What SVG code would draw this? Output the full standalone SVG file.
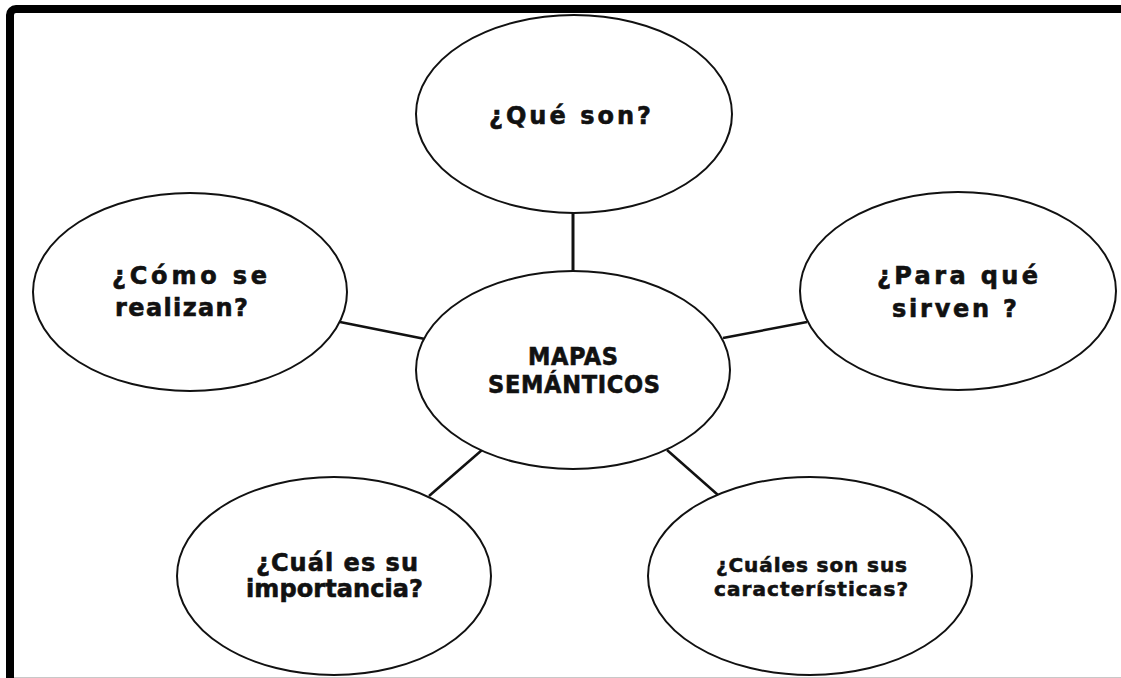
<svg xmlns="http://www.w3.org/2000/svg" width="1121" height="678" viewBox="0 0 1121 678">
<style>
.node ellipse{fill:#fff;stroke:#111;stroke-width:2}
.t{font-family:"DejaVu Sans","Liberation Sans",sans-serif;font-weight:bold;fill:#111;stroke:#111;stroke-width:0.6;font-size:24px}
.s{font-size:20px}
.c{font-family:"DejaVu Sans Condensed","Liberation Sans Narrow","Liberation Sans",sans-serif;font-size:25px}
.conn line{stroke:#111;stroke-width:2.5}
</style>
<rect x="0" y="0" width="1121" height="678" fill="#fff"/>
<rect x="10" y="9" width="1200" height="720" rx="6" fill="#fff" stroke="#000" stroke-width="8"/>
<line x1="14" y1="677.5" x2="1121" y2="677.5" stroke="#c8c8c8" stroke-width="1"/>
<g id="connectors" class="conn">
<line x1="573" y1="212" x2="573" y2="272" style="stroke-width:3"/>
<line x1="340" y1="322" x2="425" y2="339"/>
<line x1="723" y1="338" x2="807" y2="322"/>
<line x1="429" y1="496" x2="482" y2="450"/>
<line x1="667" y1="450" x2="718" y2="495"/>
</g>
<g id="n-que" class="node">
<ellipse cx="574" cy="114" rx="158" ry="99"/>
<text class="t" x="489" y="124" textLength="162" lengthAdjust="spacing">¿Qué son?</text>
</g>
<g id="n-como" class="node">
<ellipse cx="190" cy="292" rx="157" ry="99"/>
<text class="t" x="112" y="284" textLength="155" lengthAdjust="spacing">¿Cómo se</text>
<text class="t" x="115" y="316" textLength="133" lengthAdjust="spacing">realizan?</text>
</g>
<g id="n-para" class="node">
<ellipse cx="958" cy="291" rx="158" ry="99"/>
<text class="t" x="877" y="284" textLength="161" lengthAdjust="spacing">¿Para qué</text>
<text class="t" x="892" y="317" textLength="125" lengthAdjust="spacing">sirven ?</text>
</g>
<g id="n-centro" class="node">
<ellipse cx="573" cy="370" rx="157" ry="99"/>
<text class="t c" x="528" y="365" textLength="90" lengthAdjust="spacing">MAPAS</text>
<text class="t c" x="488" y="393" textLength="172" lengthAdjust="spacing">SEMÁNTICOS</text>
</g>
<g id="n-importancia" class="node">
<ellipse cx="334" cy="576" rx="157" ry="99"/>
<text class="t" x="256" y="571" textLength="162" lengthAdjust="spacing">¿Cuál es su</text>
<text class="t" x="246" y="597" textLength="177" lengthAdjust="spacing">importancia?</text>
</g>
<g id="n-caracteristicas" class="node">
<ellipse cx="810" cy="576" rx="162" ry="99"/>
<text class="t s" x="716" y="572" textLength="191" lengthAdjust="spacing">¿Cuáles son sus</text>
<text class="t s" x="714" y="596" textLength="194" lengthAdjust="spacing">características?</text>
</g>
</svg>
